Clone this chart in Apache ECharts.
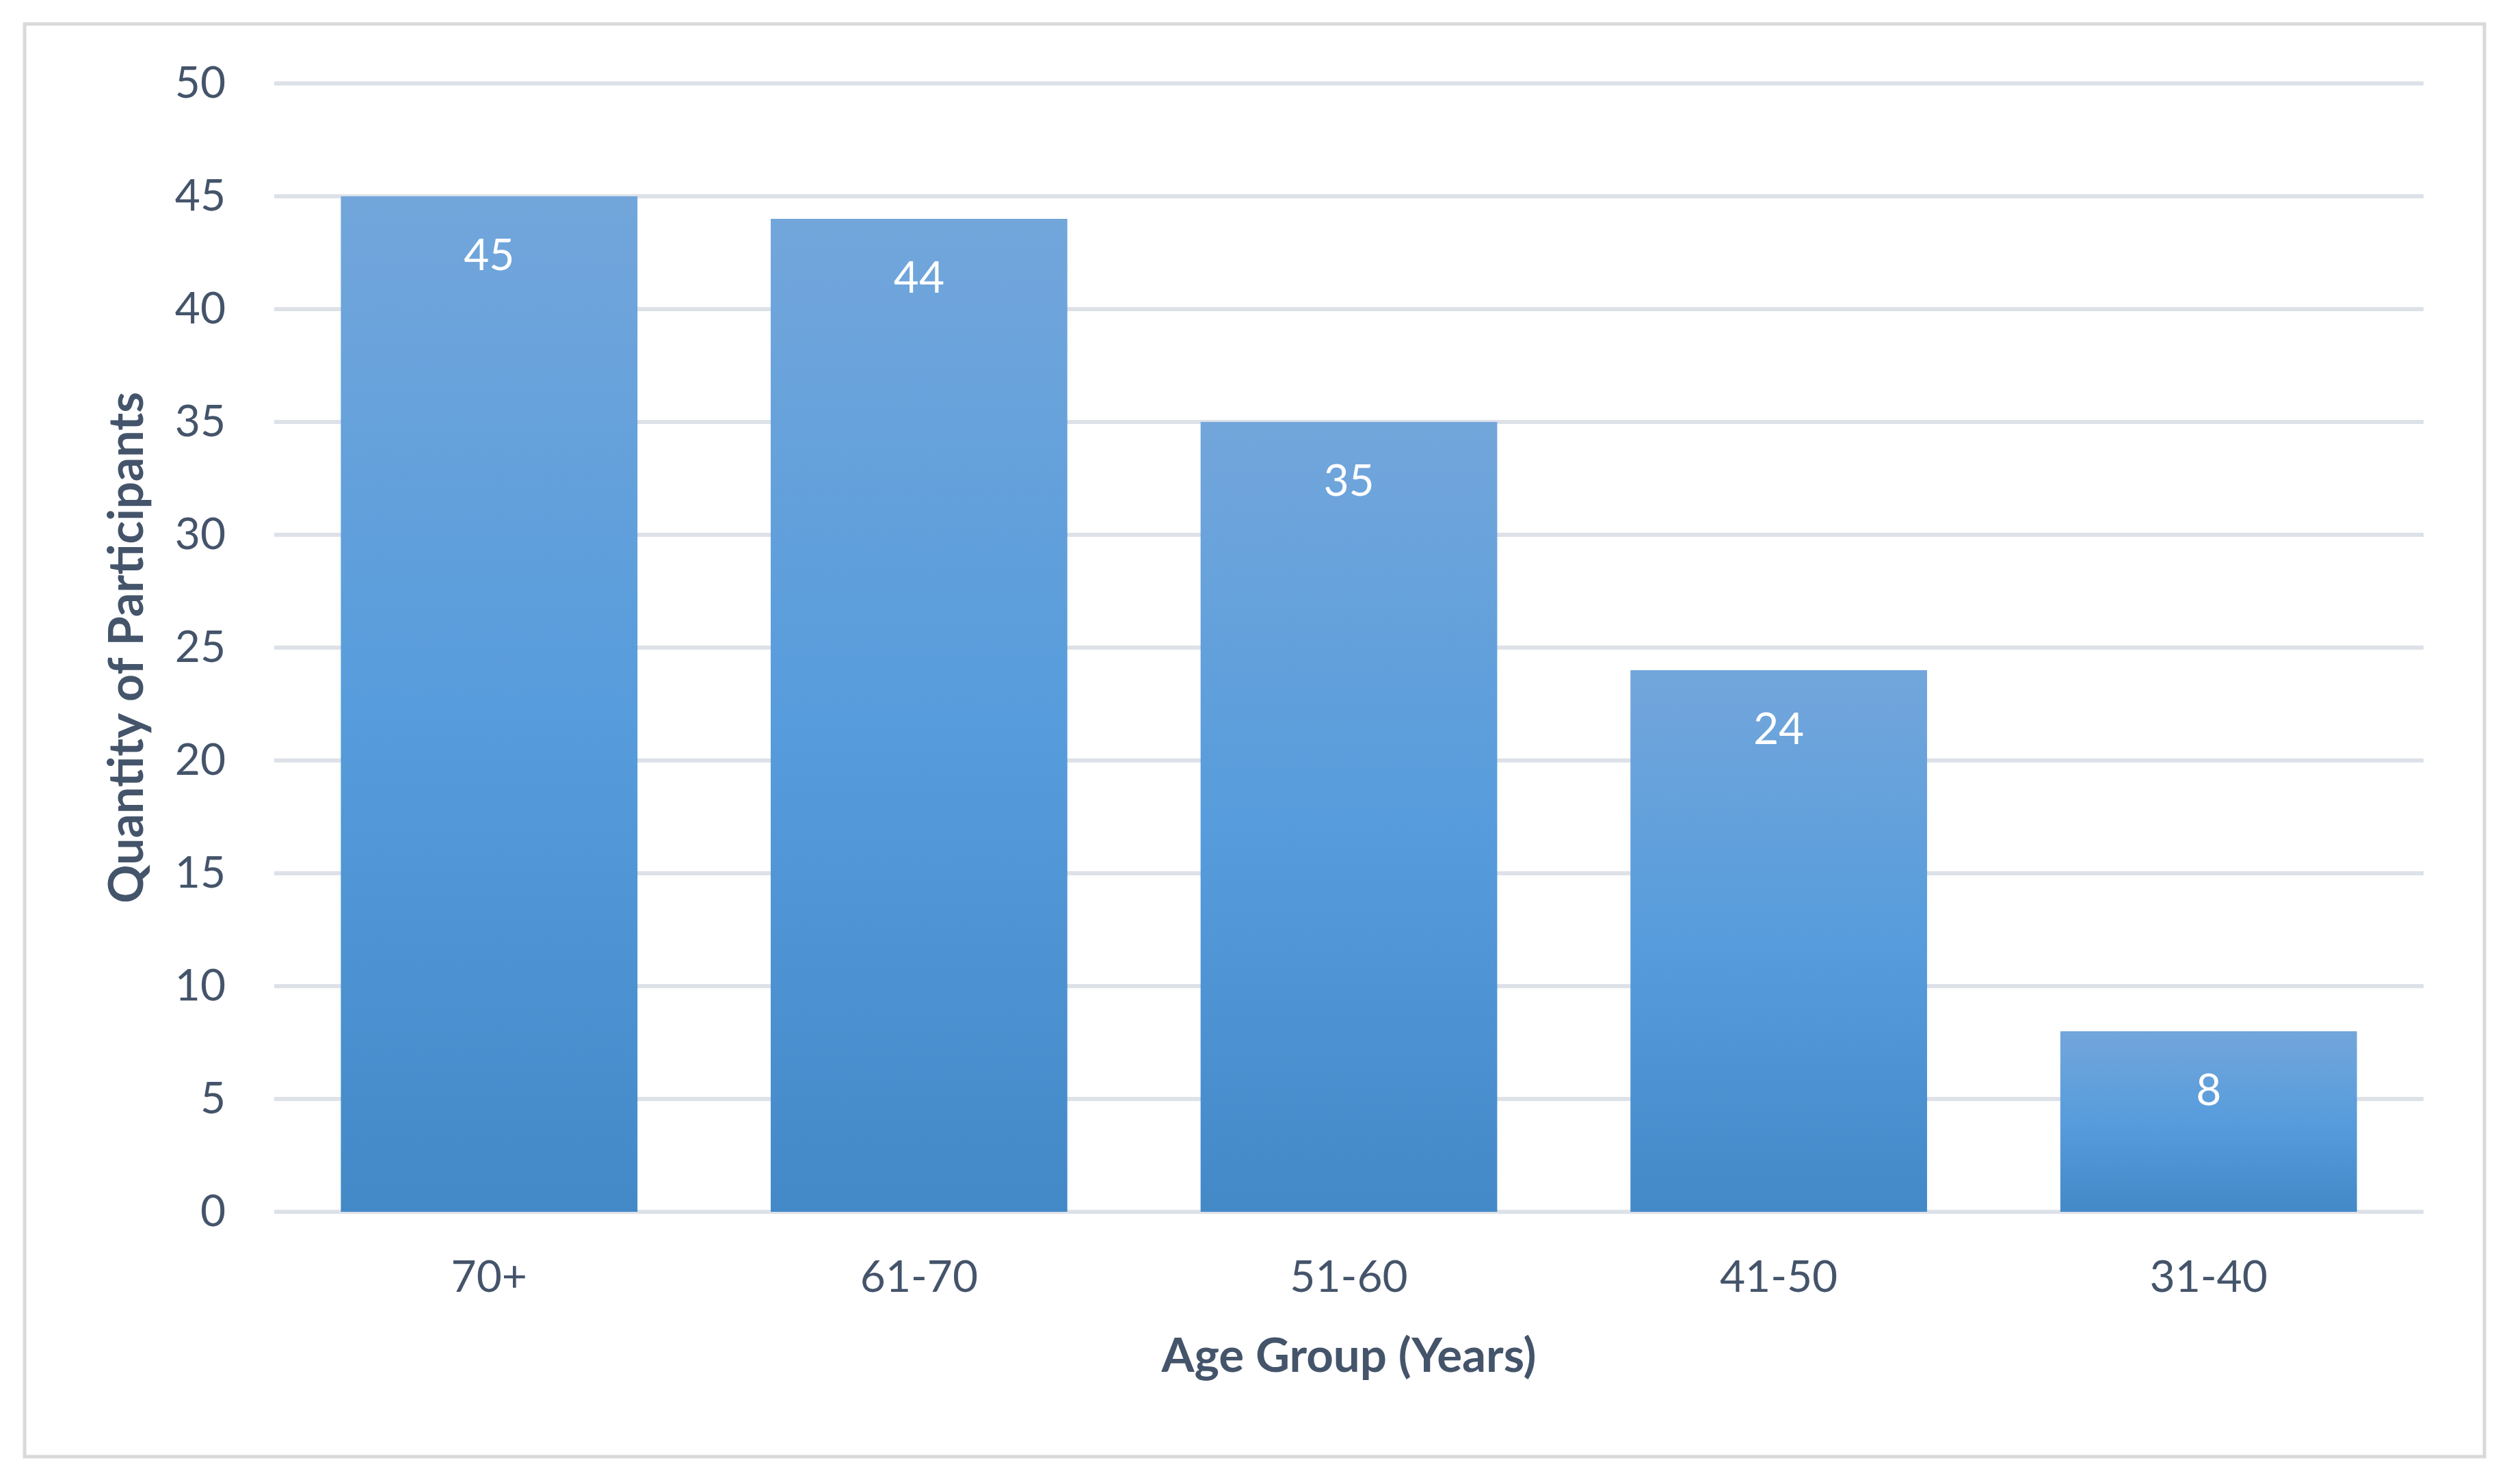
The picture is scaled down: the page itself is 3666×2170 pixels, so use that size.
<!DOCTYPE html>
<html>
<head>
<meta charset="utf-8">
<script src="https://cdn.jsdelivr.net/npm/echarts@6/dist/echarts.min.js"></script>
<style>
html,body{margin:0;padding:0;background:#fff;}
#chart{width:3666px;height:2170px;}
</style>
</head>
<body>
<div id="chart"></div>
<script>
const categories = ['70+', '61-70', '51-60', '41-50', '31-40'];
const participants = [45, 44, 35, 24, 8];
const yTicks = [0, 5, 10, 15, 20, 25, 30, 35, 40, 45, 50];
const xTitle = 'Age Group (Years)';
const yTitle = 'Quantity of Participants';

const textColor = '#44546a';
const font = 'Lato, "Open Sans", sans-serif';

const chart = echarts.init(document.getElementById('chart'), null, {renderer: 'canvas'});
chart.setOption({
  backgroundColor: '#ffffff',
  animation: false,
  graphic: [{
    type: 'rect',
    shape: {x: 36, y: 35, width: 3597, height: 2095},
    style: {fill: 'none', stroke: '#d9d9d9', lineWidth: 5},
    silent: true
  }],
  grid: {left: 401, right: 122, top: 122, bottom: 398, containLabel: false},
  xAxis: {
    type: 'category',
    data: categories,
    axisLine: {show: false},
    axisTick: {show: false},
    axisLabel: {color: textColor, fontFamily: font, fontSize: 64, lineHeight: 64, margin: 64},
    name: xTitle,
    nameLocation: 'middle',
    nameGap: 172,
    nameTextStyle: {color: textColor, fontFamily: font, fontSize: 69, fontWeight: 'bold', lineHeight: 80}
  },
  yAxis: {
    type: 'value',
    min: yTicks[0],
    max: yTicks[yTicks.length - 1],
    interval: yTicks[1] - yTicks[0],
    axisLine: {show: false},
    axisTick: {show: false},
    splitLine: {lineStyle: {color: '#dde1e8', width: 6}},
    axisLabel: {color: textColor, fontFamily: font, fontSize: 64, margin: 71},
    name: yTitle,
    nameLocation: 'middle',
    nameRotate: 90,
    nameGap: 175,
    nameTextStyle: {color: textColor, fontFamily: font, fontSize: 70, fontWeight: 'bold', lineHeight: 80}
  },
  series: [{
    type: 'bar',
    data: participants,
    barWidth: '69%',
    itemStyle: {
      color: new echarts.graphic.LinearGradient(0, 0, 0, 1, [
        {offset: 0, color: '#72a6db'},
        {offset: 0.5, color: '#579cdc'},
        {offset: 1, color: '#4389c8'}
      ])
    },
    label: {
      show: true,
      position: 'insideTop',
      distance: 55,
      color: '#ffffff',
      fontFamily: font,
      fontSize: 64,
      lineHeight: 64
    }
  }]
});
</script>
</body>
</html>
